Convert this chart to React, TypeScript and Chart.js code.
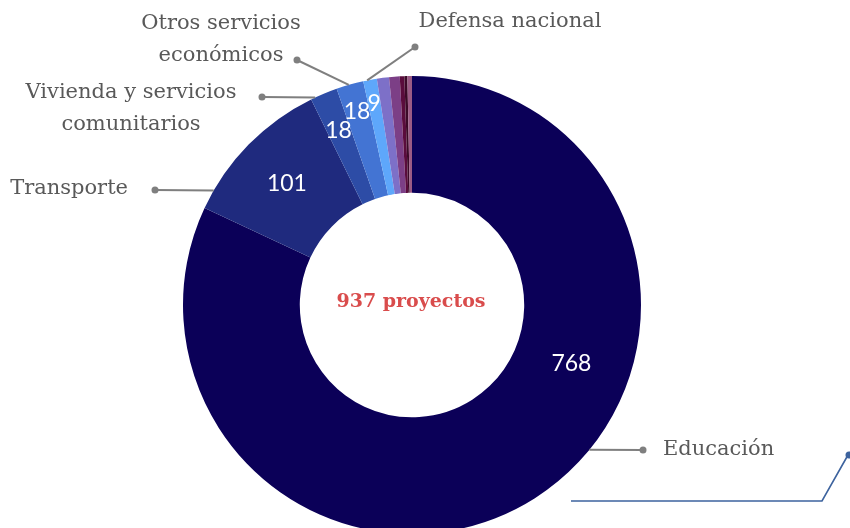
import React, { useEffect, useRef } from "react";
import { Chart, registerables } from "chart.js";

Chart.register(...registerables);

const categories = [
  "Educación",
  "Transporte",
  "Vivienda y servicios comunitarios",
  "Otros servicios económicos",
  "Defensa nacional",
  "Otro 1",
  "Otro 2",
  "Otro 3",
  "Otro 4",
  "Otro 5",
];
const projectCounts = [768, 101, 18, 18, 9, 8, 7, 3, 2, 3];
const sliceColors = [
  "#0b0058",
  "#1f2a7e",
  "#2d4ca6",
  "#4374d3",
  "#5ea7fb",
  "#7d70c8",
  "#7c3f86",
  "#5a0c3c",
  "#3c0a28",
  "#9c5a85",
];
const centerText = "937 proyectos";

// which slices show their value inside the ring, and where (angle fraction, radial fraction)
const valueLabelPlacement: { [i: number]: [number, number] } = {
  0: [0.372, 0.49],
  1: [0.5, 0.54],
  2: [0.5, 0.67],
  3: [0.5, 0.77],
  4: [0.5, 0.8],
};

// outer labels: slice index, angle fraction where leader starts, dot offset from center,
// text offset from dot, alignment, text lines
const outerLabels = [
  { i: 0, frac: 0.438, dot: [231, 145], txt: [20, 0], align: "left", lines: ["Educación"] },
  { i: 1, frac: 0.127, dot: [-257, -115], txt: [-27, -1], align: "right", lines: ["Transporte"] },
  { i: 2, frac: 0.16, dot: [-150, -208], txt: [-131, -4], align: "center", lines: ["Vivienda y servicios", "comunitarios"] },
  { i: 3, frac: 0.46, dot: [-115, -245], txt: [-76, -36], align: "center", lines: ["Otros servicios", "económicos"] },
  { i: 4, frac: 0.29, dot: [3, -258], txt: [95, -25], align: "center", lines: ["Defensa nacional"] },
];

const VALUE_FONT = "23px Lato, 'Noto Sans', sans-serif";
const LABEL_FONT = "21px 'DejaVu Serif', serif";
const CENTER_FONT = "bold 19px 'DejaVu Serif', serif";

const labelPlugin = {
  id: "customLabels",
  afterDraw(chart: any) {
    const ctx = chart.ctx;
    const meta = chart.getDatasetMeta(0);
    const arcs = meta.data;
    if (!arcs.length) return;
    const cx = arcs[0].x;
    const cy = arcs[0].y;
    ctx.save();

    // values inside ring
    ctx.fillStyle = "#ffffff";
    ctx.font = VALUE_FONT;
    ctx.textAlign = "center";
    ctx.textBaseline = "middle";
    Object.keys(valueLabelPlacement).forEach((k) => {
      const idx = Number(k);
      const a = arcs[idx];
      const [af, rf] = valueLabelPlacement[idx];
      const ang = a.startAngle + (a.endAngle - a.startAngle) * af;
      const r = a.innerRadius + (a.outerRadius - a.innerRadius) * rf;
      ctx.fillText(String(projectCounts[idx]), cx + Math.cos(ang) * r, cy + Math.sin(ang) * r + 1);
    });

    // outer labels with leader lines
    outerLabels.forEach((l) => {
      const a = arcs[l.i];
      const ang = a.startAngle + (a.endAngle - a.startAngle) * l.frac;
      const sx = cx + Math.cos(ang) * a.outerRadius;
      const sy = cy + Math.sin(ang) * a.outerRadius;
      const dx = cx + l.dot[0];
      const dy = cy + l.dot[1];
      ctx.strokeStyle = "#7f7f7f";
      ctx.lineWidth = 2;
      ctx.beginPath();
      ctx.moveTo(sx, sy);
      ctx.lineTo(dx, dy);
      ctx.stroke();
      ctx.fillStyle = "#7f7f7f";
      ctx.beginPath();
      ctx.arc(dx, dy, 3.5, 0, Math.PI * 2);
      ctx.fill();
      ctx.fillStyle = "#595959";
      ctx.font = LABEL_FONT;
      ctx.textAlign = l.align as CanvasTextAlign;
      ctx.textBaseline = "middle";
      l.lines.forEach((line, j) => {
        ctx.fillText(line, dx + l.txt[0], dy + l.txt[1] + j * 32);
      });
    });

    // center text
    ctx.fillStyle = "#d94c4c";
    ctx.font = CENTER_FONT;
    ctx.textAlign = "center";
    ctx.textBaseline = "middle";
    ctx.fillText(centerText, cx - 1, cy - 3);

    // decorative connector line bottom-right
    ctx.strokeStyle = "#3d639e";
    ctx.lineWidth = 1.6;
    ctx.beginPath();
    ctx.moveTo(cx + 159, cy + 196);
    ctx.lineTo(cx + 410, cy + 196);
    ctx.lineTo(cx + 436, cy + 150);
    ctx.stroke();
    ctx.fillStyle = "#3d639e";
    ctx.beginPath();
    ctx.arc(cx + 437, cy + 150, 3.5, 0, Math.PI * 2);
    ctx.fill();
    ctx.restore();
  },
};

export default function App() {
  const ref = useRef<HTMLCanvasElement | null>(null);
  useEffect(() => {
    if (!ref.current) return;
    let alive = true;
    const chart = new Chart(ref.current, {
      type: "doughnut",
      data: {
        labels: categories,
        datasets: [
          {
            data: projectCounts,
            backgroundColor: sliceColors,
            borderWidth: 0,
          },
        ],
      },
      options: {
        animation: false,
        responsive: false,
        devicePixelRatio: 1,
        cutout: "49%",
        layout: { padding: { left: 183, top: 76, right: 209, bottom: 11 } },
        plugins: {
          legend: { display: false },
          tooltip: { enabled: false },
        },
      },
      plugins: [labelPlugin],
    });
    const fonts = (document as any).fonts;
    if (fonts && fonts.load) {
      Promise.all([fonts.load(VALUE_FONT), fonts.load(LABEL_FONT), fonts.load(CENTER_FONT)])
        .then(() => {
          if (alive) chart.draw();
        })
        .catch(() => {});
    }
    return () => {
      alive = false;
      chart.destroy();
    };
  }, []);
  return (
    <div
      style={{
        position: "fixed",
        left: 0,
        top: 0,
        width: 850,
        height: 528,
        overflow: "hidden",
        background: "#ffffff",
      }}
    >
      <canvas ref={ref} width={850} height={545} style={{ width: 850, height: 545, display: "block" }} />
    </div>
  );
}
